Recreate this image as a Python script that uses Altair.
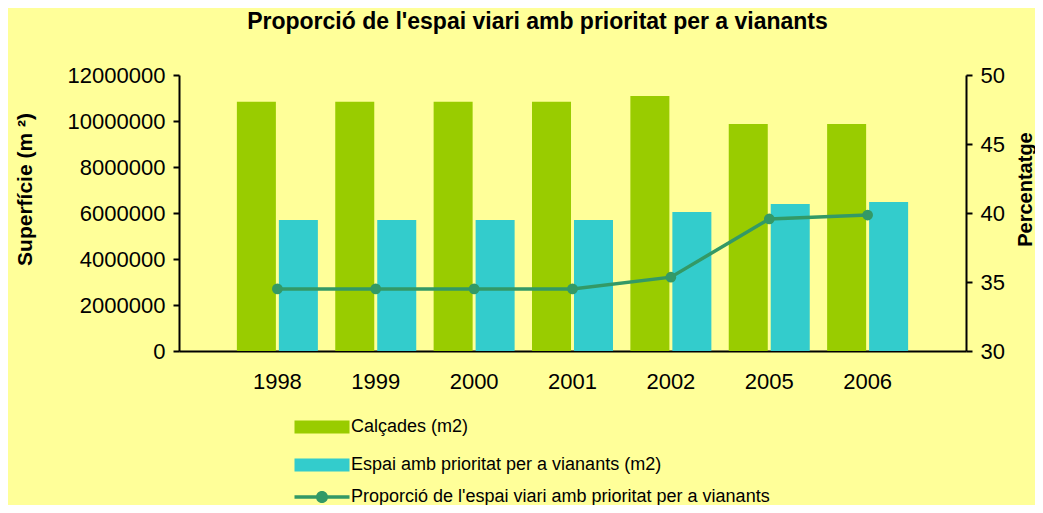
import altair as alt
import pandas as pd

years = ["1998", "1999", "2000", "2001", "2002", "2005", "2006"]
calcades = [10840000, 10840000, 10840000, 10840000, 11090000, 9870000, 9870000]
espai = [5700000, 5700000, 5700000, 5700000, 6040000, 6390000, 6480000]
proporcio = [34.5, 34.5, 34.5, 34.5, 35.35, 39.57, 39.85]

s_calc = "Calçades (m2)"
s_esp = "Espai amb prioritat per a vianants (m2)"
s_prop = "Proporció de l'espai viari amb prioritat per a vianants"

bars_df = pd.DataFrame(
    {"year": years * 2,
     "serie": [s_calc] * len(years) + [s_esp] * len(years),
     "value": calcades + espai}
)
line_df = pd.DataFrame({"year": years, "pct": proporcio, "serie_l": [s_prop] * len(years)})

FONT = "Liberation Sans"
BG = "#FFFF99"
GREEN = "#99CC00"
CYAN = "#33CCCC"
LINEC = "#339966"

xenc = alt.X(
    "year:N", sort=years, title=None,
    scale=alt.Scale(paddingInner=0, paddingOuter=0.5),
    axis=alt.Axis(labelAngle=0, ticks=False, labelPadding=20, labelFontSize=22,
                  labelFont=FONT, labelColor="black", domainColor="black", domainWidth=2),
)

yright = alt.Y("pct:Q", scale=alt.Scale(domain=[30, 50]),
               axis=alt.Axis(orient="right", values=[30, 35, 40, 45, 50],
                             title="Percentatge", titleFontSize=20, titleFont=FONT,
                             titleFontWeight="bold", titleColor="black",
                             titleAngle=-90, titleX=59, titleY=114, titleAlign="center",
                             titleBaseline="middle",
                             labelFontSize=22, labelFont=FONT, labelColor="black",
                             labelPadding=8, tickSize=6, tickWidth=2, tickColor="black",
                             domainColor="black", domainWidth=2, grid=False))

bars = alt.Chart(bars_df).mark_bar().encode(
    x=xenc,
    xOffset=alt.XOffset("serie:N", sort=[s_calc, s_esp],
                        scale=alt.Scale(paddingInner=0.071, paddingOuter=0.207)),
    y=alt.Y("value:Q", scale=alt.Scale(domain=[0, 12000000]),
            axis=alt.Axis(values=list(range(0, 12000001, 2000000)), format="d",
                          title="Superfície (m ²)", titleFontSize=21, titleFont=FONT,
                          titleFontWeight="bold", titleColor="black",
                          titleAngle=-90, titleX=-154, titleY=114, titleAlign="center",
                          titleBaseline="middle",
                          labelFontSize=22, labelFont=FONT, labelColor="black",
                          labelPadding=8, tickSize=6, tickWidth=2, tickColor="black",
                          domainColor="black", domainWidth=2, grid=False)),
    fill=alt.Fill("serie:N", sort=[s_calc, s_esp],
                  scale=alt.Scale(domain=[s_calc, s_esp], range=[GREEN, CYAN]),
                  legend=alt.Legend(title=None, orient="none", legendX=134, legendY=343,
                                    direction="vertical", padding=0, rowPadding=20,
                                    symbolType="M-5,-1.18H5V1.18H-5Z", symbolSize=121,
                                    symbolStrokeWidth=0, labelOffset=20,
                                    labelFontSize=18, labelFont=FONT, labelColor="black",
                                    labelLimit=600)),
)

line = alt.Chart(line_df).mark_line(strokeWidth=3.5).encode(
    x=xenc,
    y=yright,
    stroke=alt.Stroke("serie_l:N", scale=alt.Scale(domain=[s_prop], range=[LINEC]),
                      legend=alt.Legend(title=None, orient="none", legendX=134, legendY=413,
                                        padding=0,
                                        symbolType="M-5,-0.32H5V0.32H-5Z M-1.1,0A1.1,1.1,0,1,1,1.1,0A1.1,1.1,0,1,1,-1.1,0Z",
                                        symbolSize=121, symbolFillColor=LINEC,
                                        symbolStrokeWidth=0, labelOffset=20,
                                        labelFontSize=18, labelFont=FONT, labelColor="black",
                                        labelLimit=700)),
)

points = alt.Chart(line_df).mark_circle(size=115, opacity=1, color=LINEC).encode(
    x=xenc,
    y=yright,
)

chart = alt.layer(bars, alt.layer(line, points)).resolve_scale(y="independent").properties(
    width=787, height=276,
    background=BG,
    padding={"left": 171, "top": 67, "right": 69, "bottom": 154},
    autosize=alt.AutoSizeParams(type="none"),
    title=alt.Title("Proporció de l'espai viari amb prioritat per a vianants",
                    font=FONT, fontSize=23, fontWeight="bold", color="black",
                    anchor="middle", offset=30, dx=-35),
).configure_view(stroke=None, fill=BG)

chart.save("out.html", embed_options={"renderer": "svg", "actions": False})
